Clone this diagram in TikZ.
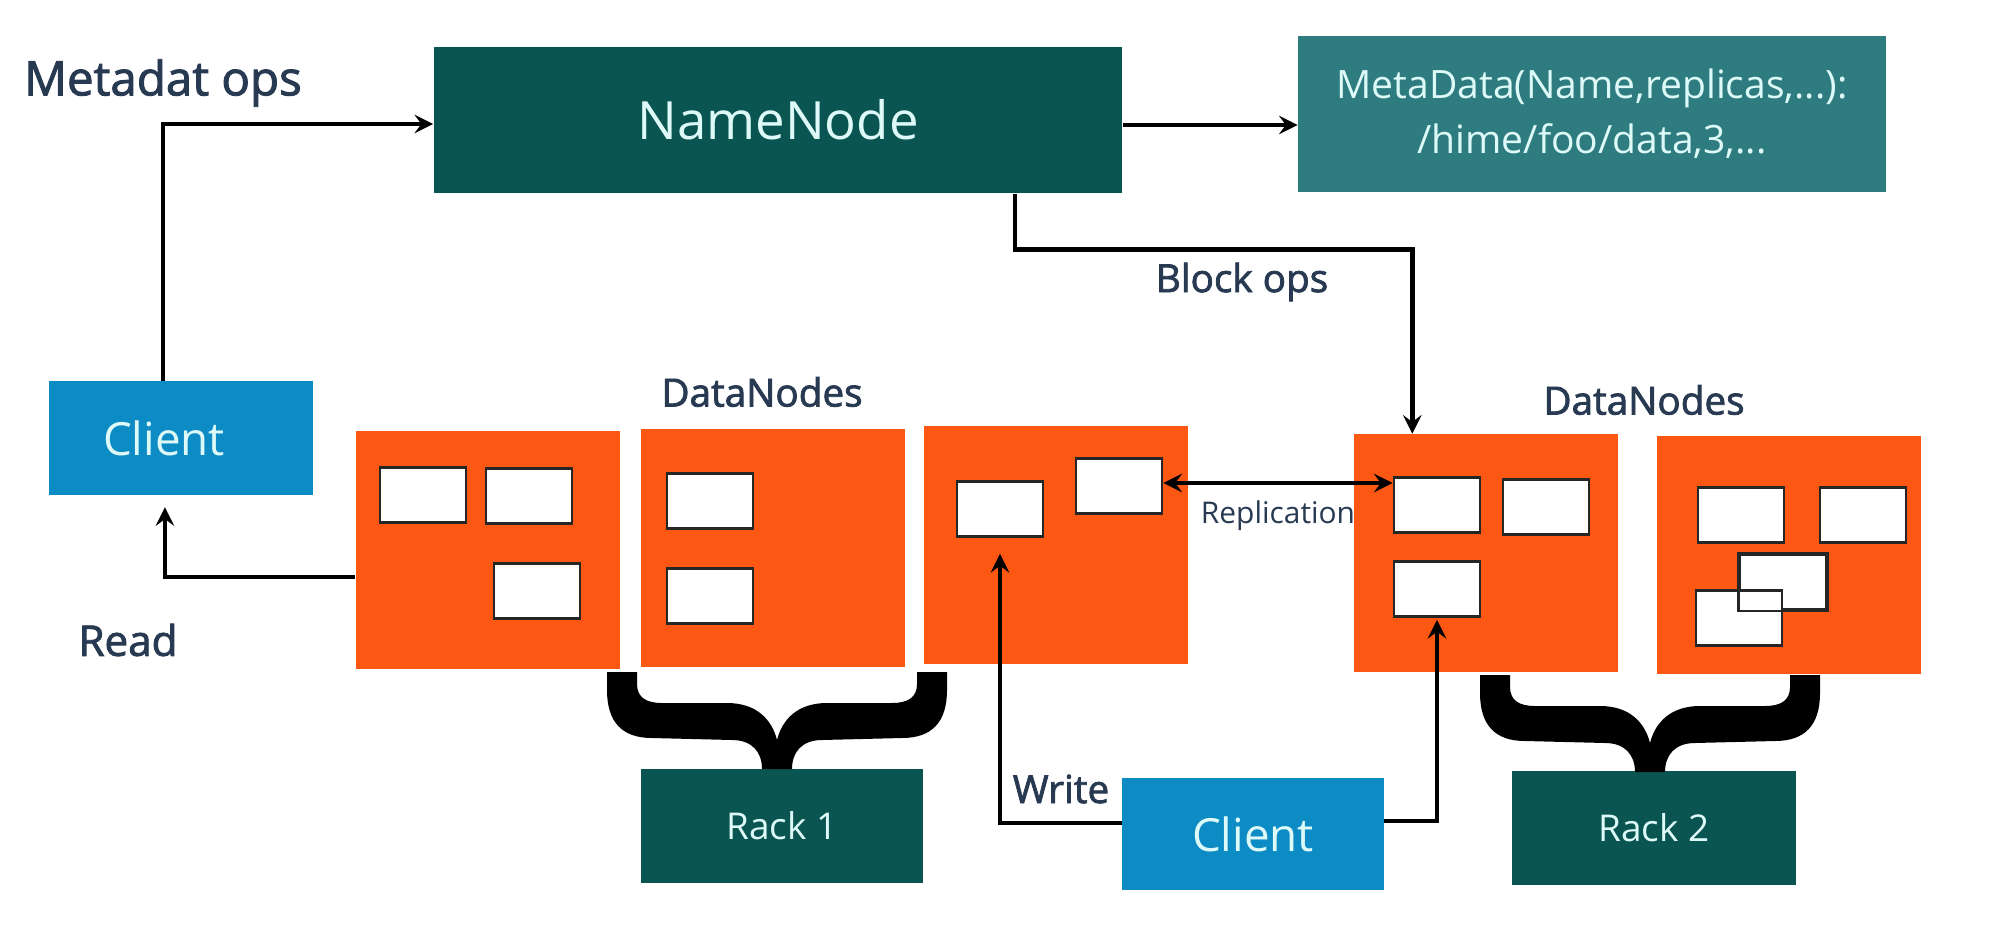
\documentclass[tikz,border=0pt]{standalone}
\usepackage{fontspec}
\setmainfont{Open Sans}
\newfontfamily\labelfont{Open Sans}[FakeBold=2]

\definecolor{nnteal}{RGB}{10,85,82}
\definecolor{mdteal}{RGB}{46,124,128}
\definecolor{clblue}{RGB}{12,139,196}
\definecolor{dnorange}{RGB}{252,88,20}
\definecolor{labelnavy}{RGB}{40,58,82}
\definecolor{boxtext}{RGB}{222,250,248}

% heavy curly brace, origin at the middle of its top edge
\newcommand{\rackbrace}[1]{%
    \fill[black, shift={#1}] (-170,0) -- (-170,18) .. controls (-170,50) and (-155,66) .. (-125,66)
        -- (-45,68) .. controls (-25,68) and (-15,80) .. (-15,97) -- (15,97)
        .. controls (15,80) and (25,68) .. (45,68) -- (125,66)
        .. controls (155,66) and (170,50) .. (170,18) -- (170,0) -- (140,0) -- (140,12)
        .. controls (140,26) and (130,31) .. (115,31) -- (50,31)
        .. controls (20,31) and (5,48) .. (0,68) .. controls (-5,48) and (-20,31) .. (-50,31)
        -- (-115,31) .. controls (-130,31) and (-140,26) .. (-140,12) -- (-140,0) -- cycle;}

\begin{document}
\begin{tikzpicture}[x=0.01cm,y=-0.01cm,
    darkbox/.style={fill=nnteal, text=boxtext, inner sep=0pt},
    clientbox/.style={fill=clblue, text=boxtext, inner sep=0pt, minimum height=1.13cm,
        font=\fontsize{13}{15}\selectfont},
    dnbox/.style={fill=dnorange, inner sep=0pt, minimum width=2.64cm, minimum height=2.37cm},
    blk/.style={draw=black!85, fill=white, line width=0.8pt, inner sep=0pt,
        minimum width=0.86cm, minimum height=0.55cm},
    lbl/.style={text=labelnavy, inner sep=0pt, font=\labelfont\fontsize{11}{13}\selectfont},
    conn/.style={line width=1.3pt}]
    \useasboundingbox (0,0) rectangle (2000,945);

    % top row
    \node[darkbox, minimum width=6.88cm, minimum height=1.46cm,
        font=\fontsize{15}{18}\selectfont] (nn) at (778,120) {NameNode};
    \node[fill=mdteal, text=boxtext, inner sep=0pt, minimum width=5.87cm, minimum height=1.56cm,
        align=center, font=\fontsize{11.1}{15.6}\selectfont] (md) at (1592,114)
        {MetaData(Name,replicas,...):\\/hime/foo/data,3,...};
    \node[lbl, font=\labelfont\fontsize{13.5}{16}\selectfont] (lmeta) at (163,83) {Metadat ops};

    % clients
    \node[clientbox, minimum width=2.63cm] (cl1) at (181,438) {\hspace*{-0.34cm}Client};
    \node[clientbox, minimum width=2.61cm, minimum height=1.12cm] (cl2) at (1253,834) {Client};

    % datanodes
    \node[dnbox] (dn1) at (488,550) {};
    \node[dnbox] (dn2) at (773,548) {};
    \node[dnbox] (dn3) at (1056,545) {};
    \node[dnbox] (dn4) at (1486,553) {};
    \node[dnbox] (dn5) at (1789,555) {};

    \node[blk] (b1a) at (423,495) {};
    \node[blk] (b1b) at (529,496) {};
    \node[blk] (b1c) at (537,591) {};
    \node[blk] (b2a) at (710,501) {};
    \node[blk] (b2b) at (710,596) {};
    \node[blk] (b3a) at (1000,509) {};
    \node[blk] (b3b) at (1119,486) {};
    \node[blk] (b4a) at (1437,505) {};
    \node[blk] (b4b) at (1546,507) {};
    \node[blk] (b4c) at (1437,589) {};
    \node[blk] (b5a) at (1741,515) {};
    \node[blk] (b5b) at (1863,515) {};
    \node[blk] (b5c) at (1783,582) {};
    \node[blk] (b5d) at (1739,618) {};
    \draw[draw=black!85, line width=0.8pt] (b5c.south west) rectangle (b5c.north east);

    \node[lbl] (ldn1) at (762,392) {DataNodes};
    \node[lbl] (ldn2) at (1644,400) {DataNodes};

    % racks
    \node[darkbox, minimum width=2.82cm, minimum height=1.14cm,
        font=\fontsize{10.5}{12}\selectfont] (rack1) at (782,826) {Rack 1};
    \node[darkbox, minimum width=2.83cm, minimum height=1.13cm,
        font=\fontsize{10.5}{12}\selectfont] (rack2) at (1654,828) {Rack 2};
    \rackbrace{(777,672)}
    \rackbrace{(1650,675)}

    % connectors
    \draw[conn,-stealth] ([xshift=-0.18cm]cl1.north) |- ([yshift=-0.04cm]nn.west);
    \draw[conn,-stealth] ([yshift=-0.05cm]nn.east) -- ([yshift=-0.05cm]nn.east -| md.west);
    \draw[conn,-stealth] ([xshift=2.37cm]nn.south) -- ++(0,56) -| ([xshift=0.59cm]dn4.north west);
    \node[lbl] (lblock) at (1242,282) {Block ops};
    \draw[conn,-stealth] ([yshift=-0.27cm]dn1.west) -| ([xshift=-0.16cm,yshift=-0.12cm]cl1.south);
    \node[lbl, font=\labelfont\fontsize{12}{14}\selectfont] (lread) at (128,640) {Read};
    \draw[conn,stealth-stealth] ([yshift=0.03cm]b3b.east) -- ([yshift=0.03cm]b3b.east -| b4a.west);
    \node[lbl, font=\fontsize{8.5}{10}\selectfont] (lrep) at (1278,516) {Replication};
    \draw[conn,-stealth] ([yshift=0.11cm]cl2.west) -| ([yshift=-0.16cm]b3a.south);
    \node[lbl] (lwrite) at (1061,789) {Write};
    \draw[conn,-stealth] ([yshift=0.13cm]cl2.east) -| ([yshift=-0.02cm]b4c.south);
\end{tikzpicture}
\end{document}
